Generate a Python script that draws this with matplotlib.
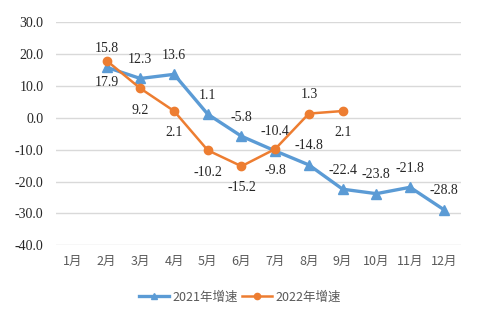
import matplotlib
matplotlib.use("Agg")
import matplotlib.pyplot as plt
from matplotlib.ticker import FormatStrFormatter

plt.rcParams["font.family"] = ["Noto Sans CJK SC", "DejaVu Sans"]

months = ["1月", "2月", "3月", "4月", "5月", "6月", "7月", "8月", "9月", "10月", "11月", "12月"]
growth_2021 = [None, 15.8, 12.3, 13.6, 1.1, -5.8, -10.4, -14.8, -22.4, -23.8, -21.8, -28.8]
growth_2022 = [None, 17.9, 9.2, 2.1, -10.2, -15.2, -9.8, 1.3, 2.1]
# label placement for the 2022 series (+1 above the point, -1 below)
side_2022 = [0, -1, -1, -1, -1, -1, -1, 1, -1]

blue = "#5B9BD5"
orange = "#ED7D31"

fig = plt.figure(figsize=(4.8, 3.27), dpi=100)
ax = fig.add_axes([0.1167, 0.2497, 0.843, 0.683])

x21 = [i for i, v in enumerate(growth_2021) if v is not None]
y21 = [v for v in growth_2021 if v is not None]
x22 = [i for i, v in enumerate(growth_2022) if v is not None]
y22 = [v for v in growth_2022 if v is not None]

l21, = ax.plot(x21, y21, color=blue, lw=2.4, marker="^", ms=6.5, label="2021年增速", zorder=3)
l22, = ax.plot(x22, y22, color=orange, lw=1.8, marker="o", ms=6, label="2022年增速", zorder=4)

serif = "Liberation Serif"
for x, v in zip(x21, y21):
    ax.annotate(f"{v:.1f}", (x, v), xytext=(0, 9), textcoords="offset points",
                ha="center", va="bottom", fontsize=10, family=serif, color="#262626")
for x, v in zip(x22, y22):
    s = side_2022[x]
    ax.annotate(f"{v:.1f}", (x, v), xytext=(0, 9 if s > 0 else -11), textcoords="offset points",
                ha="center", va="bottom" if s > 0 else "top", fontsize=10,
                family=serif, color="#262626")

ax.set_xlim(-0.5, 11.5)
ax.set_ylim(-40, 30)
ax.set_yticks(range(-40, 31, 10))
ax.yaxis.set_major_formatter(FormatStrFormatter("%.1f"))
for t in ax.get_yticklabels():
    t.set_family(serif)
    t.set_fontsize(10)
    t.set_color("#262626")
ax.set_xticks(range(12))
ax.set_xticklabels(months, fontsize=9, color="#595959")
ax.tick_params(axis="both", length=0)
ax.tick_params(axis="x", pad=7)
ax.tick_params(axis="y", pad=9)
ax.grid(axis="y", color="#D9D9D9", lw=1)
ax.set_axisbelow(True)
for sp in ax.spines.values():
    sp.set_visible(False)

leg = fig.legend(handles=[l21, l22], loc="center", bbox_to_anchor=(0.5, 0.092), ncol=2,
                 frameon=False, fontsize=9, handlelength=2.4, columnspacing=0.3,
                 handletextpad=0.3, markerscale=0.75)
for t in leg.get_texts():
    t.set_color("#595959")

fig.savefig("out.png", dpi=100, facecolor="white")
